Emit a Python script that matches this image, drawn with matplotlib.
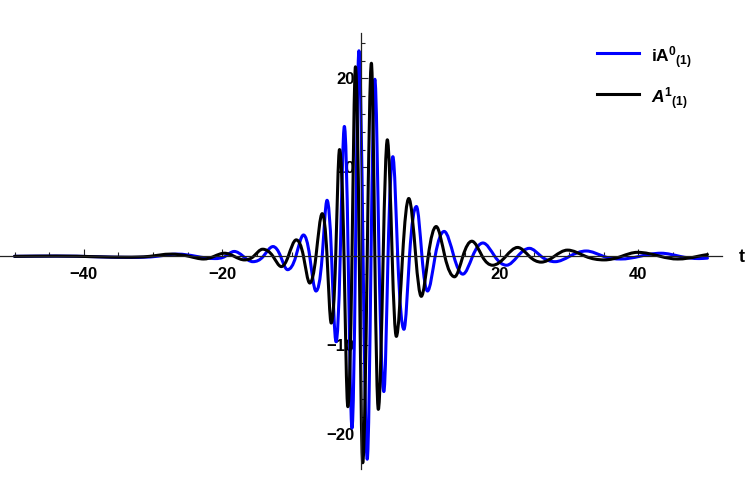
import numpy as np
import matplotlib
matplotlib.use('Agg')
import matplotlib.pyplot as plt
from matplotlib.ticker import FixedLocator, MultipleLocator
from matplotlib.path import Path
from matplotlib.patches import PathPatch
from matplotlib.lines import Line2D

plt.rcParams['font.family'] = ['Liberation Sans', 'DejaVu Sans']
plt.rcParams['mathtext.fontset'] = 'custom'
plt.rcParams['mathtext.rm'] = 'Liberation Sans:bold'
plt.rcParams['mathtext.bf'] = 'Liberation Sans:bold'
plt.rcParams['mathtext.it'] = 'Liberation Sans:bold:italic'

# iA0_(1): extrema and zero crossings
t_blue = [-50, -44, -38, -33, -29.5, -26.5, -23.8, -21.1, -19.6, -18.3, -17.0, -15.6,
          -14.1, -12.7, -11.6, -10.6, -9.4, -8.3, -7.4, -6.5, -5.6, -4.9, -4.25, -3.6,
          -3.0, -2.4, -1.85, -1.3, -0.8, -0.3, 0.3, 0.9, 1.45, 2.0, 2.6, 3.3, 3.9, 4.6,
          5.3, 6.2, 7.0, 8.0, 8.8, 9.6, 10.7, 12.0, 13.4, 14.7, 16.1, 17.6, 19.3, 21.0,
          22.6, 24.3, 26.0, 28.0, 30.1, 32.5, 35.0, 37.5, 40.2, 43.3, 46.0, 48.8, 50]
y_blue = [0, 0.03, -0.05, -0.12, 0, 0.25, 0, -0.25, 0, 0.55, 0, -0.6,
          0, 1.1, 0, -1.5, 0, 2.4, 0, -3.9, 0, 6.3, 0, -9.6,
          0, 14.6, 0, -19.3, 0, 23.1, 0, -22.8, 0, 19.9, 0, -15.2, 0, 11.2,
          0, -8.2, 0, 5.6, 0, -3.9, 0, 2.8, 0, -2.0, 0, 1.5, 0, -1.0,
          0, 0.9, 0, -0.6, 0, 0.6, 0, -0.3, 0, 0.35, 0, -0.25, -0.2]

# A1_(1)
t_black = [-50, -44, -38, -34, -30.5, -27.5, -24.8, -22.7, -21.2, -19.7, -18.3, -16.8,
           -15.5, -14.2, -12.7, -11.5, -10.5, -9.35, -8.3, -7.4, -6.5, -5.6, -4.9, -4.3,
           -3.65, -3.1, -2.45, -1.9, -1.3, -0.8, -0.25, 0.25, 0.9, 1.5, 2.0, 2.5, 3.2, 3.8,
           4.5, 5.1, 6.0, 6.9, 7.9, 8.7, 9.7, 10.85, 12.1, 13.5, 14.7, 16.0, 17.5, 19.0,
           20.9, 22.6, 24.3, 26.0, 27.9, 29.8, 32.4, 35.1, 37.6, 39.9, 43.2, 45.7, 48.6, 50]
y_black = [0, 0.03, -0.05, -0.1, 0, 0.25, 0, -0.3, 0, 0.35, 0, -0.4,
           0, 0.8, 0, -1.15, 0, 1.85, 0, -3.0, 0, 4.8, 0, -7.5,
           0, 12.0, 0, -16.9, 0, 21.3, 0, -23.2, 0, 21.7, 0, -17.2, 0, 13.1,
           0, -9.0, 0, 6.5, 0, -4.5, 0, 3.35, 0, -2.3, 0, 1.7, 0, -1.0,
           0, 1.0, 0, -0.65, 0, 0.7, 0, -0.4, 0, 0.45, 0, -0.3, 0, 0.2]

x_major = [-40, -20, 20, 40]
y_major = [-20, -10, 10, 20]


def smooth_path(t, y):
    # bezier path through the read points, flat at the extrema
    t = np.asarray(t, float)
    y = np.asarray(y, float)
    n = len(t)
    m = np.zeros(n)
    for i in range(n):
        if i == 0:
            m[i] = (y[1] - y[0]) / (t[1] - t[0])
        elif i == n - 1:
            m[i] = (y[-1] - y[-2]) / (t[-1] - t[-2])
        elif (y[i] - y[i-1]) * (y[i+1] - y[i]) <= 0:
            m[i] = 0.0
        else:
            m[i] = np.pi / 2 * (y[i+1] - y[i-1]) / (t[i+1] - t[i-1])
    verts = [(t[0], y[0])]
    codes = [Path.MOVETO]
    for i in range(n - 1):
        h = t[i+1] - t[i]
        verts += [(t[i] + h/3, y[i] + m[i]*h/3), (t[i+1] - h/3, y[i+1] - m[i+1]*h/3), (t[i+1], y[i+1])]
        codes += [Path.CURVE4] * 3
    return Path(verts, codes)


fig = plt.figure(figsize=(7.47, 4.8), dpi=100)
ax = fig.add_axes([0, 11/480, 722/747, 436/480])

ax.add_patch(PathPatch(smooth_path(t_blue, y_blue), facecolor='none', edgecolor='#0000ff',
                       lw=2.2, joinstyle='round', capstyle='round', zorder=2))
ax.add_patch(PathPatch(smooth_path(t_black, y_black), facecolor='none', edgecolor='black',
                       lw=2.2, joinstyle='round', capstyle='round', zorder=2.1))

ax.set_xlim(-52.1, 52.1)
ax.set_ylim(-23.9, 25.1)

for s in ['top', 'right']:
    ax.spines[s].set_visible(False)
ax.spines['left'].set_position(('data', 0))
ax.spines['bottom'].set_position(('data', 0))
for s in ['left', 'bottom']:
    ax.spines[s].set_linewidth(0.9)
    ax.spines[s].set_color('#222222')

ax.xaxis.set_major_locator(FixedLocator(x_major))
ax.xaxis.set_minor_locator(MultipleLocator(5))
ax.yaxis.set_major_locator(FixedLocator(y_major))
ax.yaxis.set_minor_locator(MultipleLocator(2))
ax.tick_params(axis='both', which='both', direction='in', color='#222222', width=0.8)
ax.tick_params(axis='both', which='major', length=5, labelsize=12)
ax.tick_params(axis='both', which='minor', length=3)
ax.tick_params(axis='x', which='major', pad=8)
ax.tick_params(axis='y', which='major', pad=4.5)
for lab in ax.get_xticklabels() + ax.get_yticklabels():
    lab.set_fontweight('bold')

fig.text(742/747, 1 - 258/480, 't', ha='center', va='center', fontsize=13, fontweight='bold')

handles = [Line2D([], [], color='#0000ff', lw=2.2), Line2D([], [], color='black', lw=2.2)]
labels = [r'iA$^{0}$$_{(1)}$', r'$A$$^{1}$$_{(1)}$']
ax.legend(handles, labels, loc='upper left', bbox_to_anchor=(597/747, 1 - 44/480),
          bbox_transform=fig.transFigure, frameon=False, borderpad=0, borderaxespad=0,
          handlelength=2.4, handleheight=2.0, handletextpad=0.7, labelspacing=0.76,
          prop=dict(weight='bold', size=12.5))

fig.savefig('out.png', dpi=100)
